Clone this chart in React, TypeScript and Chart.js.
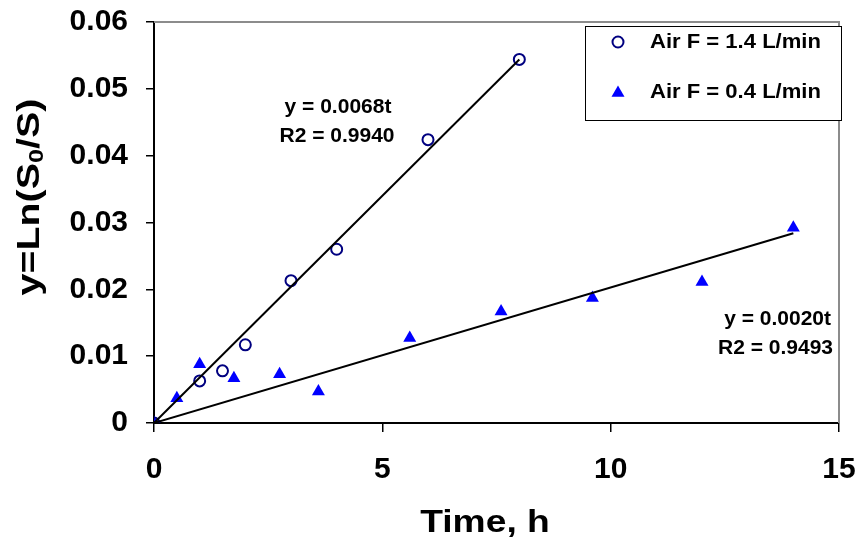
import React, { useEffect, useRef } from 'react';
import { Chart, registerables } from 'chart.js';

Chart.register(...registerables);

const FONT = "'Liberation Sans', Arial, Helvetica, sans-serif";

// Air F = 1.4 L/min (open circles)
const timeHigh = [0, 1, 1.5, 2, 3, 4, 6, 8];
const lnHigh = [0, 0.0063, 0.0078, 0.0117, 0.0213, 0.026, 0.0424, 0.0544];

// Air F = 0.4 L/min (filled triangles)
const timeLow = [0, 0.5, 1, 1.75, 2.75, 3.6, 5.6, 7.6, 9.6, 12, 14];
const lnLow = [0, 0.0037, 0.0088, 0.0067, 0.0073, 0.0047, 0.0127, 0.0167, 0.0187, 0.0211, 0.0292];

// Linear trendlines through origin
const trendHighTime = [0, 8];
const trendHighLn = [0, 0.0544];
const trendLowTime = [0, 14];
const trendLowLn = [0, 0.0284];

const xTickValues = [0, 5, 10, 15];
const xTickLabels = ['0', '5', '10', '15'];
const yTickValues = [0, 0.01, 0.02, 0.03, 0.04, 0.05, 0.06];
const yTickLabels = ['0', '0.01', '0.02', '0.03', '0.04', '0.05', '0.06'];

const seriesNames = ['Air F = 1.4 L/min', 'Air F = 0.4 L/min'];
const equations = [
  ['y = 0.0068t', 'R2 = 0.9940'],
  ['y = 0.0020t', 'R2 = 0.9493'],
];

const toPoints = (xs: number[], ys: number[]) => xs.map((x, i) => ({ x, y: ys[i] }));

const CIRCLE_COLOR = '#000080';
const TRI_COLOR = '#0000FF';

function drawTriangle(ctx: CanvasRenderingContext2D, x: number, y: number, r: number) {
  ctx.beginPath();
  for (let k = 0; k < 3; k++) {
    const a = (k * 2 * Math.PI) / 3;
    const px = x + Math.sin(a) * r;
    const py = y - Math.cos(a) * r;
    if (k === 0) ctx.moveTo(px, py);
    else ctx.lineTo(px, py);
  }
  ctx.closePath();
  ctx.fill();
}

const overlayPlugin = {
  id: 'overlay',
  beforeDatasetsDraw(chart: any) {
    const { ctx, chartArea: a } = chart;
    ctx.save();
    ctx.strokeStyle = '#8c8c8c';
    ctx.lineWidth = 2;
    ctx.beginPath();
    ctx.moveTo(a.left, a.top);
    ctx.lineTo(a.right, a.top);
    ctx.lineTo(a.right, a.bottom);
    ctx.stroke();
    ctx.restore();
  },
  afterDraw(chart: any) {
    const { ctx } = chart;
    ctx.save();
    ctx.fillStyle = '#000';

    // equations
    ctx.font = `bold 21px ${FONT}`;
    ctx.textBaseline = 'middle';
    ctx.textAlign = 'center';
    ctx.fillText(equations[0][0], 338, 107);
    ctx.fillText(equations[0][1], 337, 136);
    ctx.textAlign = 'right';
    ctx.fillText(equations[1][0], 831, 319);
    ctx.fillText(equations[1][1], 833, 348);

    // legend
    ctx.fillStyle = '#fff';
    ctx.fillRect(585, 26, 257, 95);
    ctx.strokeStyle = '#000';
    ctx.lineWidth = 1;
    ctx.strokeRect(585.5, 26.5, 256, 94);
    ctx.strokeStyle = CIRCLE_COLOR;
    ctx.lineWidth = 2;
    ctx.beginPath();
    ctx.arc(618, 42, 5.5, 0, Math.PI * 2);
    ctx.stroke();
    ctx.fillStyle = TRI_COLOR;
    drawTriangle(ctx, 618, 93, 7.5);
    ctx.fillStyle = '#000';
    ctx.font = `bold 21px ${FONT}`;
    ctx.textAlign = 'left';
    ctx.save();
    ctx.translate(650, 0);
    ctx.scale(1.05, 1);
    ctx.fillText(seriesNames[0], 0, 42);
    ctx.fillText(seriesNames[1], 0, 92);
    ctx.restore();

    // x axis title (slightly widened like the reference)
    ctx.save();
    ctx.translate(485, 523);
    ctx.scale(1.2, 1);
    ctx.font = `bold 31px ${FONT}`;
    ctx.textAlign = 'center';
    ctx.fillText('Time, h', 0, 0);
    ctx.restore();

    // y axis title with subscript
    ctx.translate(30, 197);
    ctx.rotate(-Math.PI / 2);
    ctx.scale(1.27, 1);
    const parts = [
      { t: 'y=Ln(S', sub: false },
      { t: '0', sub: true },
      { t: '/S)', sub: false },
    ];
    const big = `bold 31px ${FONT}`;
    const small = `bold 20px ${FONT}`;
    let total = 0;
    for (const p of parts) {
      ctx.font = p.sub ? small : big;
      total += ctx.measureText(p.t).width;
    }
    let x = -total / 2;
    ctx.textAlign = 'left';
    for (const p of parts) {
      ctx.font = p.sub ? small : big;
      ctx.fillText(p.t, x, p.sub ? 7 : 0);
      x += ctx.measureText(p.t).width;
    }
    ctx.restore();
  },
};

export default function App() {
  const ref = useRef<HTMLCanvasElement>(null);
  useEffect(() => {
    document.body.style.margin = '0';
    const chart = new Chart(ref.current as HTMLCanvasElement, {
      type: 'scatter',
      data: {
        datasets: [
          {
            label: 'trend1',
            data: toPoints(trendHighTime, trendHighLn),
            showLine: true,
            borderColor: '#000',
            borderWidth: 2,
            pointRadius: 0,
          },
          {
            label: 'trend2',
            data: toPoints(trendLowTime, trendLowLn),
            showLine: true,
            borderColor: '#000',
            borderWidth: 2,
            pointRadius: 0,
          },
          {
            label: seriesNames[0],
            data: toPoints(timeHigh, lnHigh),
            pointStyle: 'circle',
            pointRadius: 5.5,
            borderWidth: 2,
            borderColor: CIRCLE_COLOR,
            backgroundColor: 'rgba(0,0,0,0)',
          },
          {
            label: seriesNames[1],
            data: toPoints(timeLow, lnLow),
            pointStyle: 'triangle',
            pointRadius: 7.5,
            borderWidth: 0,
            borderColor: TRI_COLOR,
            backgroundColor: TRI_COLOR,
          },
        ],
      },
      options: {
        responsive: false,
        animation: false,
        devicePixelRatio: 1,
        layout: { padding: { left: 0, top: 22, right: 23, bottom: 0 } },
        plugins: { legend: { display: false }, tooltip: { enabled: false } },
        scales: {
          x: {
            type: 'linear',
            min: 0,
            max: 15,
            afterBuildTicks: (s: any) => {
              s.ticks = xTickValues.map((v) => ({ value: v }));
            },
            afterFit: (s: any) => {
              s.height = 129;
              s.paddingLeft = 0;
              s.paddingRight = 0;
            },
            ticks: {
              callback: (_v: any, i: number) => xTickLabels[i],
              color: '#000',
              padding: 20,
              maxRotation: 0,
              font: { family: FONT, size: 30, weight: 'bold' },
            },
            grid: { display: true, drawOnChartArea: false, drawTicks: true, tickLength: 9, color: '#000', lineWidth: 1.5 },
            border: { display: true, color: '#000', width: 2 },
          },
          y: {
            type: 'linear',
            min: 0,
            max: 0.06,
            afterBuildTicks: (s: any) => {
              s.ticks = yTickValues.map((v) => ({ value: v }));
            },
            afterFit: (s: any) => {
              s.width = 154;
              s.paddingTop = 0;
              s.paddingBottom = 0;
            },
            ticks: {
              callback: (_v: any, i: number) => yTickLabels[i],
              color: '#000',
              padding: 18,
              font: { family: FONT, size: 30, weight: 'bold' },
            },
            grid: { display: true, drawOnChartArea: false, drawTicks: true, tickLength: 8, color: '#000', lineWidth: 1.5 },
            border: { display: true, color: '#000', width: 2 },
          },
        },
      },
      plugins: [overlayPlugin],
    });
    return () => chart.destroy();
  }, []);
  return <canvas ref={ref} width={862} height={552} style={{ display: 'block' }} />;
}
